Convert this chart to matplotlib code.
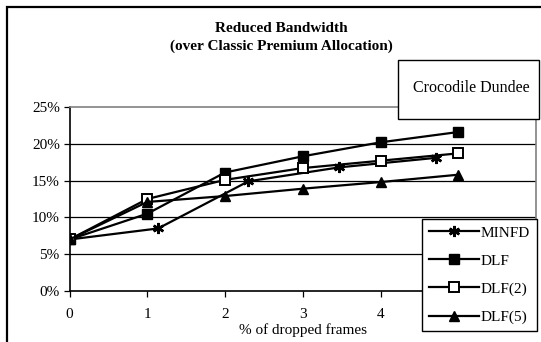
import matplotlib
matplotlib.use("Agg")
import matplotlib.pyplot as plt
from matplotlib.patches import Rectangle
from matplotlib.ticker import FuncFormatter

plt.rcParams['font.family'] = ['Liberation Serif', 'DejaVu Serif']

minfd_x = [0, 1.14, 2.30, 3.47, 4.72]
minfd_y = [7.0, 8.5, 14.9, 16.8, 18.1]
dlf_x = [0, 1, 2, 3, 4, 5]
dlf_y = [7.0, 10.5, 16.1, 18.3, 20.2, 21.6]
dlf2_x = [0, 1, 2, 3, 4, 5]
dlf2_y = [7.0, 12.5, 15.1, 16.7, 17.7, 18.7]
dlf5_x = [0, 1, 2, 3, 4, 5]
dlf5_y = [7.0, 12.1, 12.9, 13.9, 14.8, 15.8]
x_ticks = [0, 1, 2, 3, 4, 5, 6]
x_tick_labels = ['0', '1', '2', '3', '4', '', '']  # 5 and 6 hidden behind the legend
y_ticks = [0, 5, 10, 15, 20, 25]

W, H = 541, 342
fig = plt.figure(figsize=(W / 100, H / 100), dpi=100)

# outer frame
fig.patches.append(Rectangle((6.5 / W, -0.1), 1.2, 1 - 7 / H + 0.1, transform=fig.transFigure,
                             fill=False, edgecolor='black', lw=1.6))

ax = fig.add_axes([69.5 / W, 1 - 291 / H, (536 - 69.5) / W, (291 - 107) / H])
ax.set_xlim(0, 6)
ax.set_ylim(0, 25)
ax.set_xticks(x_ticks)
ax.set_xticklabels(x_tick_labels)
ax.set_yticks(y_ticks)
ax.yaxis.set_major_formatter(FuncFormatter(lambda v, p: f"{int(v)}%"))
for v in y_ticks[1:-1]:
    ax.axhline(v, color='black', lw=0.9, zorder=1)
ax.spines['left'].set_color('black')
ax.spines['bottom'].set_color('black')
ax.spines['top'].set_color('#808080')
ax.spines['right'].set_color('#808080')
for s in ax.spines.values():
    s.set_linewidth(1.2)
ax.tick_params(axis='both', labelsize=11, length=4, width=0.9, direction='out')
ax.tick_params(axis='x', pad=8)
ax.tick_params(axis='y', pad=3)

lkw = dict(color='black', lw=1.6, zorder=3)
ax.plot(minfd_x, minfd_y, marker=(6, 2, 0), ms=8, mew=1.8, label='MINFD', **lkw)
ax.plot(dlf_x, dlf_y, marker='s', ms=7, mfc='black', label='DLF', **lkw)
ax.plot(dlf2_x, dlf2_y, marker='s', ms=6.5, mfc='white', mew=1.4, label='DLF(2)', **lkw)
ax.plot(dlf5_x, dlf5_y, marker='^', ms=7, mfc='black', label='DLF(5)', **lkw)

ax.set_xlabel('% of dropped frames', fontsize=11, labelpad=2)

leg = fig.legend(loc='upper left', bbox_to_anchor=(421.7 / W, 1 - 219 / H),
                 fontsize=11, frameon=True, fancybox=False, handlelength=3.3,
                 borderpad=0.45, labelspacing=0.94, handletextpad=0.13, borderaxespad=0)
leg.set_zorder(10)
leg.get_frame().set_edgecolor('black')
leg.get_frame().set_linewidth(1.0)
leg.get_frame().set_alpha(1)

fig.text(281 / W, 1 - 28 / H, 'Reduced Bandwidth', ha='center', va='center',
         fontsize=11, fontweight='bold')
fig.text(281 / W, 1 - 46 / H, '(over Classic Premium Allocation)', ha='center', va='center',
         fontsize=11, fontweight='bold')

fig.patches.append(Rectangle((398 / W, 1 - 119 / H), 141 / W, 59 / H, transform=fig.transFigure,
                             facecolor='white', edgecolor='black', lw=1.0, zorder=5))
fig.text(471 / W, 1 - 88 / H, 'Crocodile Dundee', ha='center', va='center', fontsize=11.5, zorder=6)

fig.savefig('out.png', dpi=100)
